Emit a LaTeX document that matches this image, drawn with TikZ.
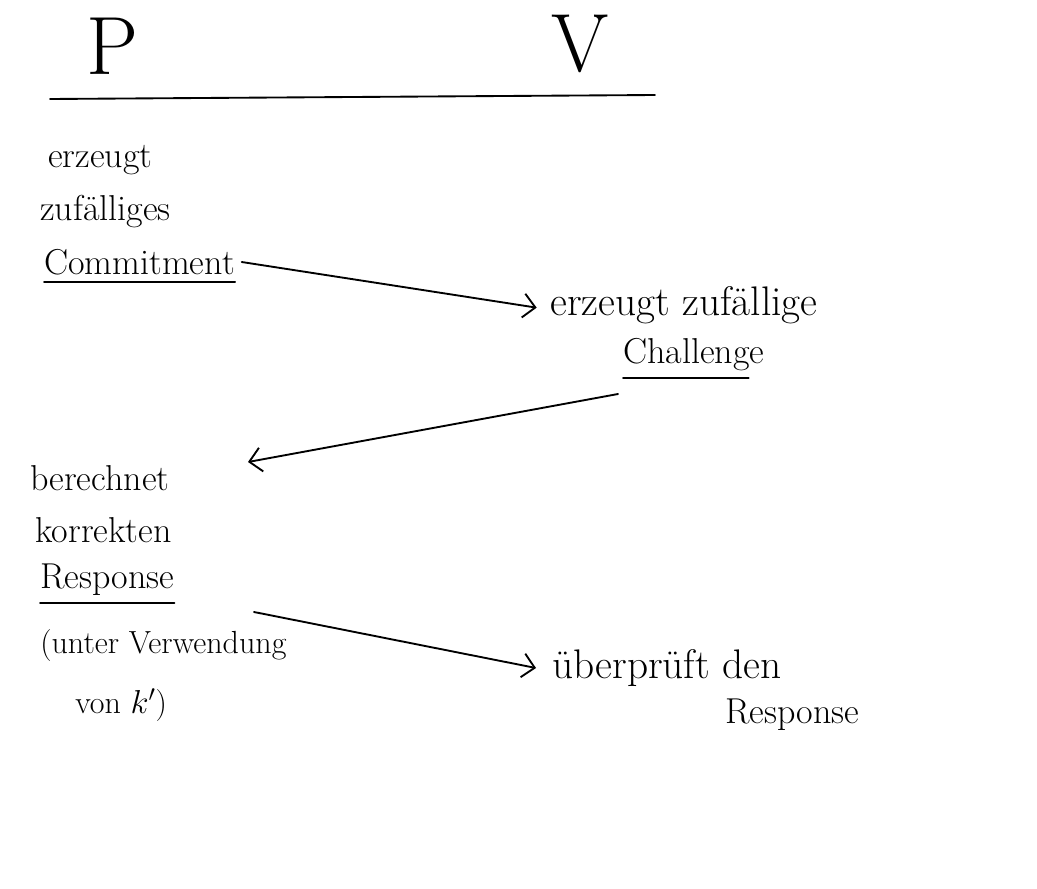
\documentclass[tikz,border=0pt]{standalone}
\usetikzlibrary{arrows.meta}
\begin{document}
\begin{tikzpicture}[x=0.75pt,y=-0.75pt,
  hw/.style={anchor=west,inner sep=0pt,font=\fontsize{27}{32}\selectfont},
  hwbig/.style={hw,font=\fontsize{31}{36}\selectfont},
  hwsmall/.style={hw,font=\fontsize{24}{28}\selectfont},
  head/.style={inner sep=0pt,font=\fontsize{62}{70}\selectfont},
  pen/.style={line width=1.4pt,line cap=round},
  flow/.style={pen,-{Straight Barb[length=9pt,width=18pt,line width=1.4pt]}}]
\useasboundingbox (0,0) rectangle (1037,888);
% header
\node[head] (P) at (112,46) {P};
\node[head] (V) at (580,44) {V};
\coordinate (hl) at (50,99);
\coordinate (hr) at (655,95);
\draw[pen] (hl) -- (hr);
% prover step 1
\node[hw] (e1) at (48,160) {erzeugt};
\node[hw] (z1) at (40,212) {zufälliges};
\node[hw] (c1) at (44,262) {Commitment};
\draw[pen] ([yshift=-5pt]c1.south west) -- ([yshift=-5pt]c1.south east);
% verifier step 1
\node[hwbig] (e2) at (550,305) {erzeugt zufällige};
\node[hw] (c2) at (623,355) {Challenge};
\draw[pen] ([yshift=-5pt]c2.south west) -- ([yshift=-5pt,xshift=-12pt]c2.south east);
% prover step 2
\node[hw] (b1) at (30,478) {berechnet};
\node[hw] (k1) at (35,530) {korrekten};
\node[hw] (r1) at (40,580) {Response};
\draw[pen] ([yshift=-5pt]r1.south west) -- ([yshift=-5pt]r1.south east);
\node[hwsmall] (u1) at (40,646) {(unter Verwendung};
\node[hwsmall] (v1) at (75,705) {von $k'$)};
% verifier step 2
\node[hwbig] (ue) at (552,668) {überprüft den};
\node[hw] (r2) at (725,715) {Response};
% connectors
\coordinate (a2s) at (618,394);
\coordinate (a2e) at (248,462);
\coordinate (a3s) at (254,612);
\draw[flow] ([xshift=5pt]c1.east) -- ([xshift=-10pt,yshift=-2pt]e2.west);
\draw[flow] (a2s) -- (a2e);
\draw[flow] (a3s) -- ([xshift=-12pt]ue.west);
\end{tikzpicture}
\end{document}
